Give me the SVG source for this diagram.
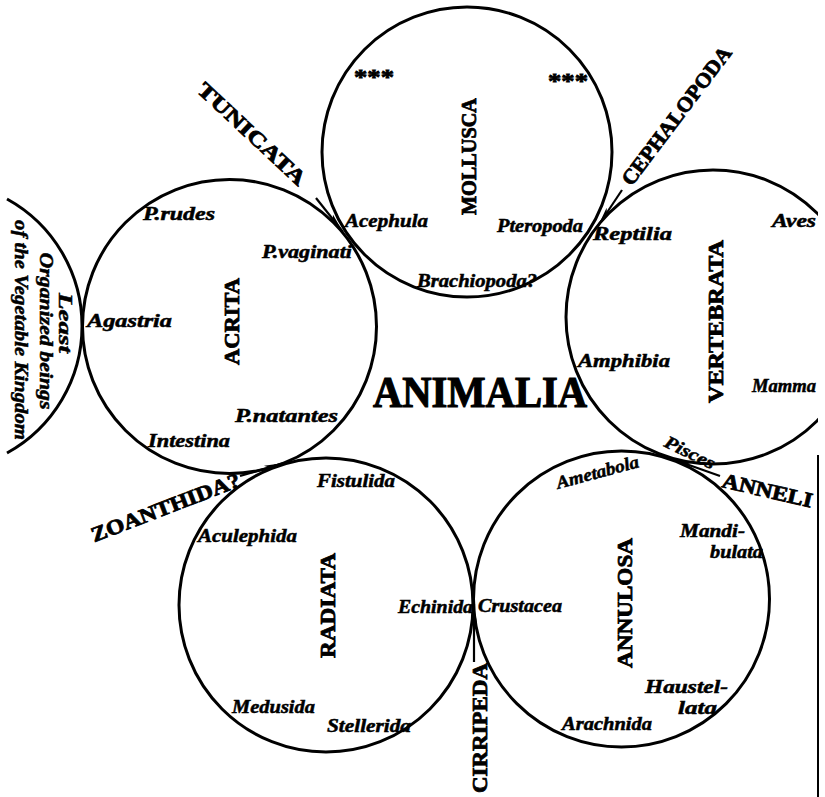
<svg xmlns="http://www.w3.org/2000/svg" width="825" height="797" viewBox="0 0 825 797">
<style>
.c{fill:none;stroke:#000;stroke-width:3}
.it{font-family:"Liberation Serif","Times New Roman",serif;font-style:italic;font-weight:bold;font-size:18px;fill:#000;stroke:#000;stroke-width:0.5}
.vt{font-family:"Liberation Serif","Times New Roman",serif;font-weight:bold;font-size:21px;fill:#000;stroke:#000;stroke-width:0.8}
.ct{font-family:"Liberation Serif","Times New Roman",serif;font-weight:bold;font-size:21px;fill:#000;stroke:#000;stroke-width:0.8}
.ln{fill:none;stroke:#000;stroke-width:2.2}
</style>
<defs>
<clipPath id="page"><rect x="5" y="0" width="813" height="797"/></clipPath>
<marker id="ah" markerUnits="userSpaceOnUse" markerWidth="22" markerHeight="10" refX="20" refY="5" orient="auto">
<path d="M0,2 L20,5 L0,8 L4,5 z" fill="#000"/>
</marker>
</defs>
<rect width="825" height="797" fill="#fff"/>
<g clip-path="url(#page)">
<g id="mollusca">
<circle class="c" cx="467" cy="152" r="145"/>
<text class="vt" x="0" y="0" transform="translate(476,215) rotate(-90)" textLength="117" lengthAdjust="spacingAndGlyphs">MOLLUSCA</text>
<text class="vt" x="354" y="84" font-size="30" textLength="40" lengthAdjust="spacingAndGlyphs">***</text>
<text class="vt" x="548" y="88" font-size="30" textLength="40" lengthAdjust="spacingAndGlyphs">***</text>
<text class="it" x="345" y="227" textLength="83" lengthAdjust="spacingAndGlyphs">Acephula</text>
<text class="it" x="497" y="232" textLength="86" lengthAdjust="spacingAndGlyphs">Pteropoda</text>
<text class="it" x="417" y="287" textLength="120" lengthAdjust="spacingAndGlyphs">Brachiopoda?</text>
</g>
<g id="acrita">
<circle class="c" cx="229.5" cy="326.5" r="147"/>
<text class="vt" x="0" y="0" transform="translate(239,365) rotate(-90)" textLength="87" lengthAdjust="spacingAndGlyphs">ACRITA</text>
<text class="it" x="143" y="220" textLength="72" lengthAdjust="spacingAndGlyphs">P.rudes</text>
<text class="it" x="262" y="258" textLength="90" lengthAdjust="spacingAndGlyphs">P.vaginati</text>
<text class="it" x="87" y="327" textLength="85" lengthAdjust="spacingAndGlyphs">Agastria</text>
<text class="it" x="235" y="422" textLength="103" lengthAdjust="spacingAndGlyphs">P.natantes</text>
<text class="it" x="148" y="447" textLength="82" lengthAdjust="spacingAndGlyphs">Intestina</text>
</g>
<g id="vegetable">
<path class="c" d="M7,199 A145,145 0 0 1 7,453"/>
<text class="it" x="0" y="0" transform="translate(59,323) rotate(90)" text-anchor="middle" textLength="60" lengthAdjust="spacingAndGlyphs">Least</text>
<text class="it" x="0" y="0" transform="translate(40,331) rotate(90)" text-anchor="middle" textLength="157" lengthAdjust="spacingAndGlyphs">Organized beings</text>
<text class="it" x="0" y="0" transform="translate(15,330) rotate(90)" text-anchor="middle" textLength="220" lengthAdjust="spacingAndGlyphs">of the Vegetable Kingdom</text>
</g>
<g id="vertebrata">
<circle class="c" cx="713" cy="317" r="147"/>
<text class="vt" x="0" y="0" transform="translate(723,403) rotate(-90)" textLength="163" lengthAdjust="spacingAndGlyphs">VERTEBRATA</text>
<text class="it" x="593" y="240" textLength="79" lengthAdjust="spacingAndGlyphs">Reptilia</text>
<text class="it" x="772" y="227" textLength="44" lengthAdjust="spacingAndGlyphs">Aves</text>
<text class="it" x="578" y="367" textLength="92" lengthAdjust="spacingAndGlyphs">Amphibia</text>
<text class="it" x="752" y="392" textLength="64" lengthAdjust="spacingAndGlyphs">Mamma</text>
<text class="it" x="0" y="0" transform="translate(663,446) rotate(26)" textLength="54" lengthAdjust="spacingAndGlyphs">Pisces</text>
</g>
<g id="radiata">
<circle class="c" cx="326" cy="605" r="147"/>
<text class="vt" x="0" y="0" transform="translate(335,658) rotate(-90)" textLength="105" lengthAdjust="spacingAndGlyphs">RADIATA</text>
<text class="it" x="317" y="487" textLength="78" lengthAdjust="spacingAndGlyphs">Fistulida</text>
<text class="it" x="198" y="542" textLength="99" lengthAdjust="spacingAndGlyphs">Aculephida</text>
<text class="it" x="398" y="613" textLength="75" lengthAdjust="spacingAndGlyphs">Echinida</text>
<text class="it" x="232" y="713" textLength="83" lengthAdjust="spacingAndGlyphs">Medusida</text>
<text class="it" x="327" y="732" textLength="84" lengthAdjust="spacingAndGlyphs">Stellerida</text>
</g>
<g id="annulosa">
<circle class="c" cx="621.5" cy="599" r="148"/>
<text class="vt" x="0" y="0" transform="translate(632,668) rotate(-90)" textLength="130" lengthAdjust="spacingAndGlyphs">ANNULOSA</text>
<text class="it" x="0" y="0" transform="translate(558,489) rotate(-15)" textLength="85" lengthAdjust="spacingAndGlyphs">Ametabola</text>
<text class="it" x="680" y="537" textLength="65" lengthAdjust="spacingAndGlyphs">Mandi-</text>
<text class="it" x="710" y="558" textLength="53" lengthAdjust="spacingAndGlyphs">bulata</text>
<text class="it" x="478" y="612" textLength="84" lengthAdjust="spacingAndGlyphs">Crustacea</text>
<text class="it" x="645" y="693" textLength="83" lengthAdjust="spacingAndGlyphs">Haustel-</text>
<text class="it" x="678" y="714" textLength="39" lengthAdjust="spacingAndGlyphs">lata</text>
<text class="it" x="562" y="730" textLength="90" lengthAdjust="spacingAndGlyphs">Arachnida</text>
</g>
<g id="animalia">
<text x="373" y="407" font-family="Liberation Serif, Times New Roman, serif" font-weight="bold" font-size="44" stroke="#000" stroke-width="1.2" textLength="214" lengthAdjust="spacingAndGlyphs">ANIMALIA</text>
</g>
<g id="connectors">
<path class="ln" d="M316,198 L343,232" marker-end="url(#ah)"/>
<path class="ln" d="M622,190 L598,226" marker-end="url(#ah)"/>
<path class="ln" d="M240,476 L284,463" marker-end="url(#ah)"/>
<path class="ln" d="M720,476 L672,459" marker-end="url(#ah)"/>
<path class="ln" d="M474,662 L474,604" marker-end="url(#ah)"/>
<text class="ct" x="0" y="0" transform="translate(247,139) rotate(43)" text-anchor="middle" textLength="140" lengthAdjust="spacingAndGlyphs">TUNICATA</text>
<text class="ct" x="0" y="0" transform="translate(682,120) rotate(-53)" text-anchor="middle" textLength="168" lengthAdjust="spacingAndGlyphs">CEPHALOPODA</text>
<text class="ct" x="0" y="0" transform="translate(168,514) rotate(-21)" text-anchor="middle" textLength="158" lengthAdjust="spacingAndGlyphs">ZOANTHIDA?</text>
<text class="ct" x="0" y="0" transform="translate(721,487) rotate(13)" textLength="92" lengthAdjust="spacingAndGlyphs">ANNELI</text>
<text class="ct" x="0" y="0" transform="translate(487,793) rotate(-90)" textLength="130" lengthAdjust="spacingAndGlyphs">CIRRIPEDA</text>
</g>
</g>
<line x1="818" y1="455" x2="818" y2="797" stroke="#000" stroke-width="2"/>
</svg>
